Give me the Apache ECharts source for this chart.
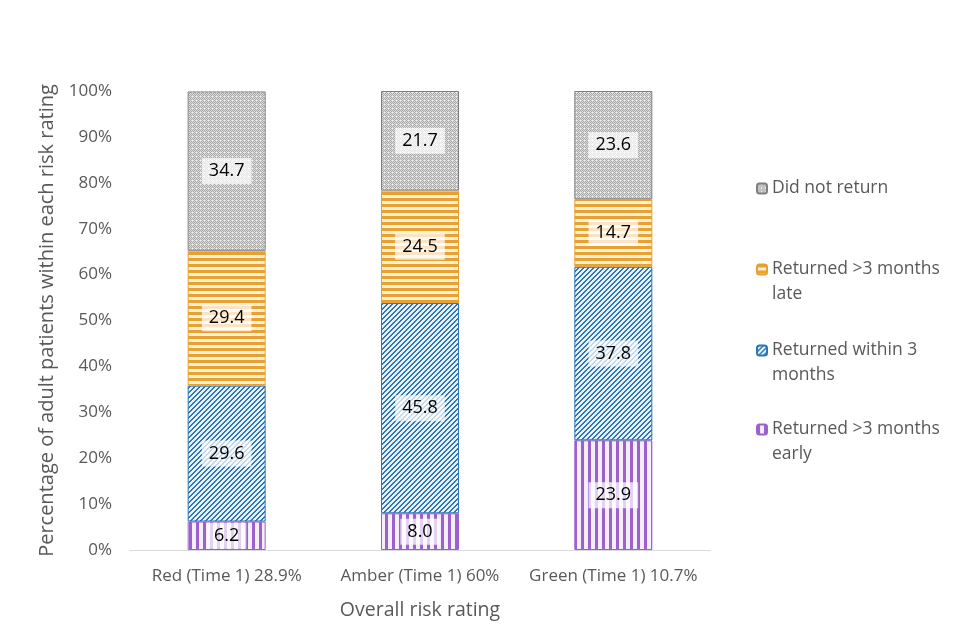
<!DOCTYPE html>
<html><head><meta charset="utf-8">
<script src="https://cdn.jsdelivr.net/npm/echarts@6/dist/echarts.min.js"></script>
<style>html,body{margin:0;padding:0;background:#fff}#c{width:960px;height:640px}</style>
</head><body><div id="c"></div>
<script>
const categories = ['Red (Time 1) 28.9%', 'Amber (Time 1) 60%', 'Green (Time 1) 10.7%'];
const early = [6.2, 8.0, 23.9];
const within3 = [29.6, 45.8, 37.8];
const late = [29.4, 24.5, 14.7];
const notReturn = [34.7, 21.7, 23.6];
const yTicks = [0, 10, 20, 30, 40, 50, 60, 70, 80, 90, 100];

function makePattern(w, h, fn) {
  const c = document.createElement('canvas');
  c.width = w; c.height = h;
  const ctx = c.getContext('2d');
  for (let x = 0; x < w; x++) for (let y = 0; y < h; y++) {
    ctx.fillStyle = fn(x, y);
    ctx.fillRect(x, y, 1, 1);
  }
  return { image: c, repeat: 'repeat' };
}
const purplePat = makePattern(7, 4, (x, y) => (x < 3 ? '#9b62cc' : '#f4edfa'));
const bluePat = makePattern(5, 5, (x, y) => (((x + y) % 5) < 2 ? '#2e75b6' : '#e6f1fa'));
const orangePat = makePattern(4, 6, (x, y) => (y < 3 ? '#e8a030' : '#fdf1d6'));
const grayPat = makePattern(4, 4, (x, y) => {
  if (x === 0 && y === 0) return '#f2f2f2';
  return ((x + y) % 2 === 0) ? '#a6a6a6' : '#dedede';
});

const FONT = 'Open Sans';
const TXT = '#595959';
const labelStyle = {
  show: true, position: 'inside', color: '#000', fontSize: 18,
  fontFamily: FONT, backgroundColor: 'rgba(255,255,255,0.72)',
  padding: [4, 7], formatter: p => p.value.toFixed(1)
};

function ser(name, data, pat, border) {
  return {
    name, type: 'bar', stack: 'a', data, barWidth: 78,
    itemStyle: { color: pat, borderColor: border, borderWidth: 1 },
    label: labelStyle
  };
}

const legendBase = {
  orient: 'vertical', left: 756, padding: 0, itemWidth: 10, itemHeight: 10, itemGap: 5,
  textStyle: { fontSize: 17.5, color: TXT, fontFamily: FONT, lineHeight: 25 }
};
function leg(name, top, txt) {
  return Object.assign({}, legendBase, { top, data: [name], formatter: () => txt });
}

const chart = echarts.init(document.getElementById('c'));
chart.setOption({
  animation: false,
  grid: { left: 130, right: 250, top: 91, bottom: 90 },
  legend: [
    leg('Did not return', 176, 'Did not return'),
    leg('Returned >3 months late', 232, ' \nReturned >3 months\nlate'),
    leg('Returned within 3 months', 313, ' \nReturned within 3\nmonths'),
    leg('Returned >3 months early', 392, ' \nReturned >3 months\nearly')
  ],
  xAxis: {
    type: 'category', data: categories,
    name: 'Overall risk rating', nameLocation: 'middle', nameGap: 50,
    nameTextStyle: { fontSize: 19.5, color: TXT, fontFamily: FONT },
    axisLine: { lineStyle: { color: '#d9d9d9' } },
    axisTick: { show: false },
    axisLabel: { fontSize: 17, color: TXT, fontFamily: FONT, margin: 18, interval: 0, hideOverlap: false }
  },
  yAxis: {
    type: 'value', min: yTicks[0], max: yTicks[yTicks.length - 1], interval: 10,
    name: 'Percentage of adult patients within each risk rating',
    nameLocation: 'middle', nameGap: 73,
    nameTextStyle: { fontSize: 20, color: TXT, fontFamily: FONT },
    splitLine: { show: false },
    axisLine: { show: false }, axisTick: { show: false },
    axisLabel: { fontSize: 17, color: TXT, fontFamily: FONT, margin: 18, formatter: '{value}%' }
  },
  series: [
    ser('Returned >3 months early', early, purplePat, '#9b62cc'),
    ser('Returned within 3 months', within3, bluePat, '#2e75b6'),
    ser('Returned >3 months late', late, orangePat, '#e8a030'),
    ser('Did not return', notReturn, grayPat, '#7f7f7f')
  ]
});
</script></body></html>
